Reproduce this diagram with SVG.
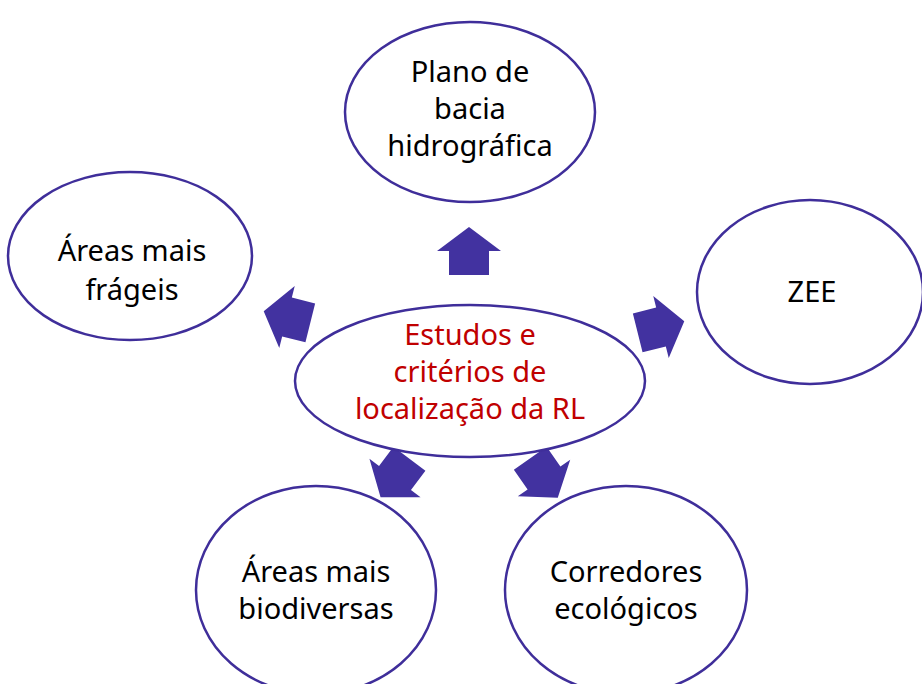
<svg xmlns="http://www.w3.org/2000/svg" width="922" height="684" viewBox="0 0 922 684">
<style>
.n{fill:#fff;stroke:#3f2e9a;stroke-width:2.5}
.t{font-family:"Noto Sans","Lato",sans-serif;font-size:29px;fill:#000;text-anchor:middle}
.r{fill:#c00000}
.a{fill:#4232a0}
</style>
<defs>
<polygon id="arr" points="0,-24 32,0 20,0 20,24 -20,24 -20,0 -32,0"/>
</defs>
<rect width="922" height="684" fill="#fff"/>
<g id="connectors">
<use href="#arr" class="a" transform="translate(469,251)"/>
<use href="#arr" class="a" transform="translate(287,317) rotate(-76)"/>
<use href="#arr" class="a" transform="translate(661,327) rotate(76)"/>
<use href="#arr" class="a" transform="translate(395,478) rotate(-143)"/>
<use href="#arr" class="a" transform="translate(544,478) rotate(145)"/>
</g>
<g id="center">
<ellipse class="n" cx="470" cy="381" rx="175" ry="76"/>
<text class="t r" x="470" y="345">Estudos e</text>
<text class="t r" x="470" y="382">critérios de</text>
<text class="t r" x="470" y="419">localização da RL</text>
</g>
<g id="top">
<ellipse class="n" cx="470" cy="112" rx="125" ry="90"/>
<text class="t" x="470" y="82">Plano de</text>
<text class="t" x="470" y="119">bacia</text>
<text class="t" x="470" y="156">hidrográfica</text>
</g>
<g id="left">
<ellipse class="n" cx="130" cy="256" rx="122" ry="84"/>
<text class="t" x="132" y="261">Áreas mais</text>
<text class="t" x="132" y="300">frágeis</text>
</g>
<g id="right">
<ellipse class="n" cx="810" cy="292" rx="113" ry="92"/>
<text class="t" x="812" y="302">ZEE</text>
</g>
<g id="bottomleft">
<ellipse class="n" cx="316" cy="590" rx="120" ry="104"/>
<text class="t" x="316" y="582">Áreas mais</text>
<text class="t" x="316" y="619">biodiversas</text>
</g>
<g id="bottomright">
<ellipse class="n" cx="626" cy="590" rx="121" ry="104"/>
<text class="t" x="626" y="582">Corredores</text>
<text class="t" x="626" y="619">ecológicos</text>
</g>
</svg>
